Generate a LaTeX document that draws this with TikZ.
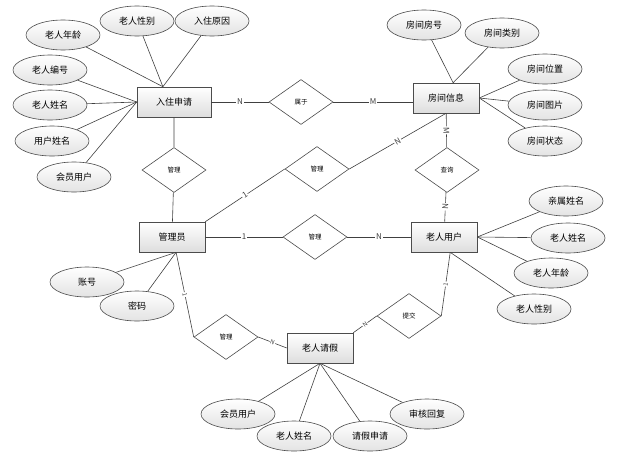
\documentclass[tikz,border=0pt]{standalone}
\usepackage{fontspec}
\setmainfont{Noto Sans CJK SC}
\usetikzlibrary{shapes.geometric}

\tikzset{
  entity/.style={draw=black!70, rectangle, minimum width=66pt, minimum height=30pt,
    top color=white, bottom color=black!13, inner sep=0pt, font=\fontsize{9}{10}\selectfont},
  attr/.style={draw=black!70, ellipse, minimum width=74pt, minimum height=30pt,
    top color=white, bottom color=black!11, inner sep=0pt, font=\fontsize{9}{10}\selectfont},
  rel/.style={draw=black!70, diamond, minimum width=64pt, minimum height=45pt,
    fill=white, inner sep=0pt, font=\fontsize{6.5}{7}\selectfont},
  card/.style={fill=white, inner sep=0.8pt, sloped, font=\fontsize{8}{9}\selectfont},
  tinycard/.style={card, font=\fontsize{6}{7}\selectfont},
}

\begin{document}
\begin{tikzpicture}
                        [x=1pt,y=-1pt,line width=0.6pt]
                        \useasboundingbox (0,0) rectangle (620,455);
                        % entities
                        \node[entity,minimum width=74pt] (e1) at (174,102) {入住申请};
                        \node[entity] (e2) at (446,98) {房间信息};
                        \node[entity] (e3) at (172,237) {管理员};
                        \node[entity] (e4) at (444,237) {老人用户};
                        \node[entity] (e5) at (320,348) {老人请假};
                        % relations
                        \node[rel] (r1) at (301,102) {属于};
                        \node[rel] (r2) at (174,170) {管理};
                        \node[rel] (r3) at (317,169) {管理};
                        \node[rel] (r4) at (447,170) {查询};
                        \node[rel] (r5) at (315,237) {管理};
                        \node[rel] (r6) at (226,337) {管理};
                        \node[rel] (r7) at (409,316) {提交};
                        % attributes
                        \node[attr] (a1) at (63,35) {老人年龄};
                        \node[attr] (a2) at (137,21) {老人性别};
                        \node[attr] (a3) at (212,21) {入住原因};
                        \node[attr] (a4) at (50,70) {老人编号};
                        \node[attr] (a5) at (50,105) {老人姓名};
                        \node[attr] (a6) at (52,141) {用户姓名};
                        \node[attr] (a7) at (74,177) {会员用户};
                        \node[attr] (b1) at (424,25) {房间房号};
                        \node[attr] (b2) at (502,33) {房间类别};
                        \node[attr] (b3) at (545,69) {房间位置};
                        \node[attr] (b4) at (545,105) {房间图片};
                        \node[attr] (b5) at (545,141) {房间状态};
                        \node[attr] (c1) at (566,201) {亲属姓名};
                        \node[attr] (c2) at (568,238) {老人姓名};
                        \node[attr] (c3) at (551,273) {老人年龄};
                        \node[attr] (c4) at (534,309) {老人性别};
                        \node[attr] (d1) at (87,282) {账号};
                        \node[attr] (d2) at (137,306) {密码};
                        \node[attr] (f1) at (238,414) {会员用户};
                        \node[attr] (f2) at (294,436) {老人姓名};
                        \node[attr] (f3) at (370,436) {请假申请};
                        \node[attr] (f4) at (427,414) {审核回复};
                        % attribute lines
                        \foreach \from/\to in {a1/e1.126,a2/e1.126,a3/e1.126,a4/e1.west,a5/e1.west,
                          a6/e1.west,a7/e1.west,b1/e2.65,b2/e2.65,b3/e2.east,b4/e2.east,b5/e2.east,
                          c1/e4.east,c2/e4.east,c3/e4.east,c4/e4.-68,d1/e3.-75,d2/e3.-75,
                          f1/e5.south,f2/e5.south,f3/e5.south,f4/e5.south}
                        \draw[black!75] (\from) -- (\to);
                        % relation lines
                        \draw[black!75] (r2) -- (e1) (r2) -- (e3);
                        \draw[black!75] (r1.east) -- node[card] {M} (r1.east -| e2.west);
                        \foreach \from/\to/\lab in {e1.east/r1.west/N,e3.north east/r3.west/1,
                          r3.east/e2.south/N,e2/r4/M,r4/e4/N,e3/r5/1,r5/e4/N}
                        \draw[black!75] (\from) -- node[card] {\lab} (\to);
                        \foreach \from/\to/\lab in {e3.-75/r6.west/1,r6.east/e5.west/N,
                          e5.north east/r7.west/N,r7.east/e4.-68/1}
                        \draw[black!75] (\from) -- node[tinycard] {\lab} (\to);
                    \end{tikzpicture}
\end{document}
